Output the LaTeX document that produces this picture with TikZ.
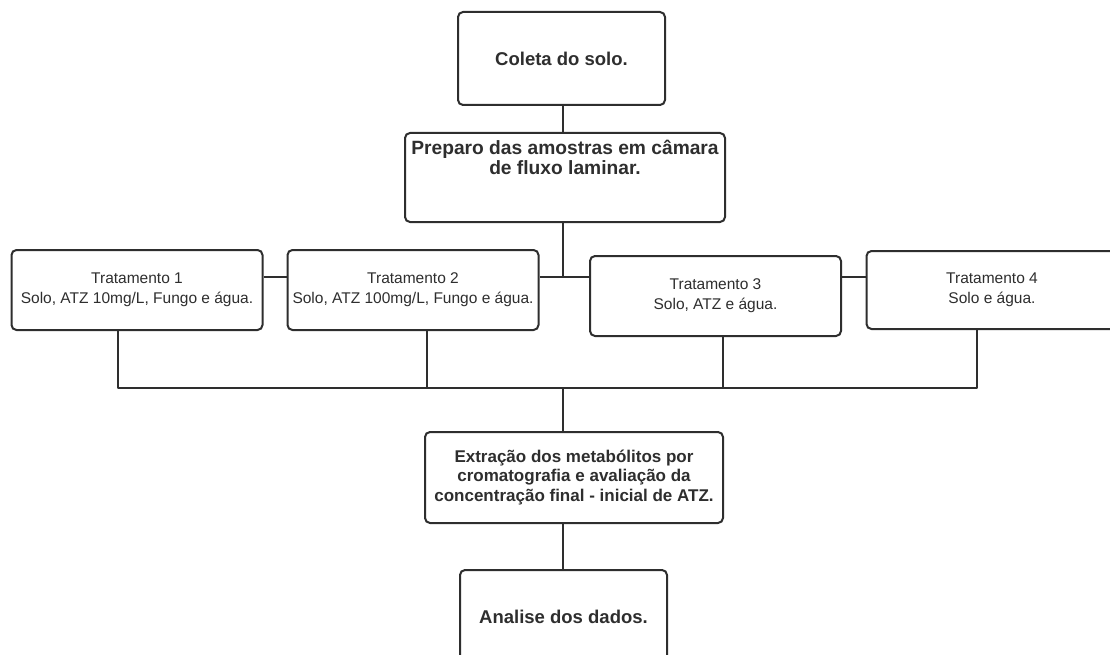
\documentclass[tikz,border=0pt]{standalone}
\usepackage{fontspec}
\setmainfont{Liberation Sans}
\definecolor{inkgray}{HTML}{2E2E2E}
\begin{document}
\begin{tikzpicture}[
        x=1pt, y=-1pt,
        box/.style={draw=inkgray, line width=2pt, rounded corners=5pt, fill=white, text=inkgray, align=center, inner sep=0pt},
        big/.style={box, font=\bfseries\fontsize{18.5}{21}\selectfont},
        treat/.style={box, minimum width=251pt, minimum height=80pt, font=\fontsize{15.5}{20}\selectfont},
        link/.style={draw=inkgray, line width=2pt, line join=round}
    ]
        \useasboundingbox (0,0) rectangle (1110,655);

        % Top steps
        \node[big, minimum width=207pt, minimum height=93pt] (coleta) at (561.5,58.5) {Coleta do solo.};
        \node[big, minimum width=320pt, minimum height=89pt,
              label={[anchor=north, yshift=-5pt, text=inkgray, align=center, font=\bfseries\fontsize{19.2}{20}\selectfont]north:Preparo das amostras em câmara\\de fluxo laminar.}] (prep) at (565,177.5) {};

        % Treatments
        \node[treat] (t1) at (137,290) {Tratamento 1\\Solo, ATZ 10mg/L, Fungo e água.};
        \node[treat] (t2) at (413,290) {Tratamento 2\\Solo, ATZ 100mg/L, Fungo e água.};
        \node[treat] (t3) at (715.5,296) {Tratamento 3\\Solo, ATZ e água.};
        \node[treat, minimum height=78pt] (t4) at (992,290) {Tratamento 4\\Solo e água.};

        % Final steps
        \node[box, minimum width=298pt, minimum height=91pt, font=\bfseries\fontsize{17}{19.5}\selectfont] (extr) at (574,477.5) {Extração dos metabólitos por\\cromatografia e avaliação da\\concentração final - inicial de ATZ.};
        \node[big, minimum width=207pt, minimum height=94pt] (analise) at (563.5,617) {Analise dos dados.};

        % Junctions
        \coordinate (hub) at (563,277);
        \coordinate (bus) at (563,388);
        \coordinate (b1) at (118,388);
        \coordinate (b2) at (427,388);
        \coordinate (b3) at (723,388);
        \coordinate (b4) at (977,388);

        % Connections
        \draw[link] (coleta.south -| hub) -- (prep.north -| hub);
        \draw[link] (prep.south -| hub) -- (hub);
        \draw[link] (t1.east |- hub) -- (t2.west |- hub);
        \draw[link] (t2.east |- hub) -- (t3.west |- hub);
        \draw[link] (t3.east |- hub) -- (t4.west |- hub);

        \draw[link] (t1.south -| b1) -- (b1) -- (b4) -- (t4.south -| b4);
        \draw[link] (t2.south -| b2) -- (b2);
        \draw[link] (t3.south -| b3) -- (b3);
        \draw[link] (bus) -- (extr.north -| bus);
        \draw[link] (extr.south -| bus) -- (analise.north -| bus);
    \end{tikzpicture}
\end{document}
